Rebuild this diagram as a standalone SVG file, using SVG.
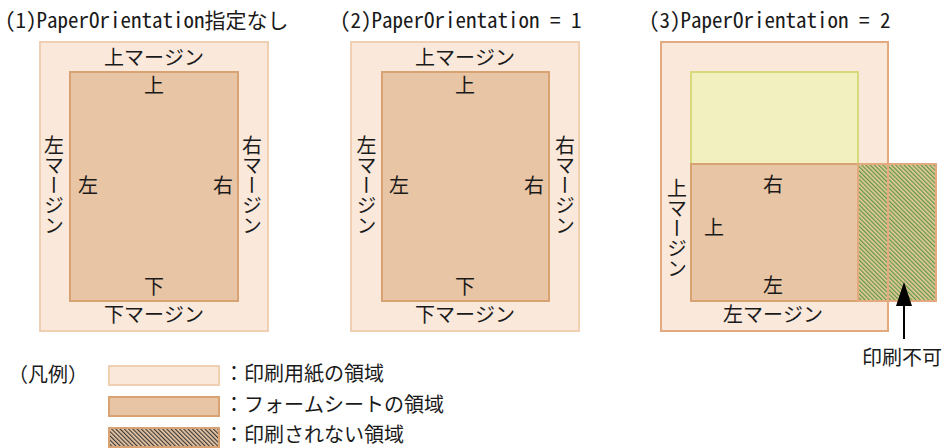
<svg xmlns="http://www.w3.org/2000/svg" width="944" height="448" viewBox="0 0 944 448">
<defs>
<style>
text{font-family:"Noto Sans Mono CJK JP","Noto Sans CJK JP","Liberation Mono",monospace;fill:#1a1a1a;}
.t{font-size:21px;}
.l{font-size:20px;text-anchor:middle;}
.v{font-size:20px;text-anchor:middle;writing-mode:vertical-rl;}
.g{font-size:20px;}
.paper{fill:#fae8da;stroke:#f0cfb2;stroke-width:2;}
.paper3{fill:#fae8da;stroke:#e2aa7e;stroke-width:2;}
.form{fill:#e8c5a5;stroke:#d9a272;stroke-width:2;}
.yel{fill:#f2f0be;stroke:#d6da7a;stroke-width:2;}
</style>
<pattern id="hg" patternUnits="userSpaceOnUse" width="3" height="3" patternTransform="rotate(-45)">
<rect width="3" height="3" fill="#ecc9a6"/>
<rect width="1.3" height="3" fill="#5f9a3c"/>
</pattern>
<pattern id="hk" patternUnits="userSpaceOnUse" width="3" height="3" patternTransform="rotate(-45)">
<rect width="3" height="3" fill="#ecc9a6"/>
<rect width="1.2" height="3" fill="#3a3a3a"/>
</pattern>
</defs>
<rect width="944" height="448" fill="#ffffff"/>

<g id="panel1">
<text class="t" x="5" y="28">(1)PaperOrientation指定なし</text>
<rect class="paper" x="40" y="42" width="228" height="289"/>
<rect class="form" x="70" y="72" width="168" height="229"/>
<text class="l" x="154" y="65">上マージン</text>
<text class="l" x="154" y="322">下マージン</text>
<text class="v" x="54" y="185.5">左マージン</text>
<text class="v" x="252" y="185.5">右マージン</text>
<text class="l" x="154" y="93">上</text>
<text class="l" x="154" y="294">下</text>
<text class="l" x="88" y="193">左</text>
<text class="l" x="223" y="193">右</text>
</g>

<g id="panel2">
<text class="t" x="340" y="28">(2)PaperOrientation = 1</text>
<rect class="paper" x="351" y="42" width="228" height="289"/>
<rect class="form" x="382" y="72" width="167" height="229"/>
<text class="l" x="465" y="65">上マージン</text>
<text class="l" x="465" y="322">下マージン</text>
<text class="v" x="366.5" y="185.5">左マージン</text>
<text class="v" x="565" y="185.5">右マージン</text>
<text class="l" x="465" y="93">上</text>
<text class="l" x="465" y="294">下</text>
<text class="l" x="399" y="193">左</text>
<text class="l" x="534" y="193">右</text>
</g>

<g id="panel3">
<text class="t" x="649" y="28">(3)PaperOrientation = 2</text>
<rect class="paper3" x="661" y="42" width="227" height="289"/>
<rect class="yel" x="691" y="72" width="167" height="92"/>
<rect class="form" x="691" y="164" width="167" height="137"/>
<rect x="858" y="164" width="78" height="137" fill="url(#hg)" stroke="#e2aa7e" stroke-width="2"/>
<line x1="888" y1="164" x2="888" y2="301" stroke="#e2aa7e" stroke-width="2"/>
<text class="l" x="773" y="192">右</text>
<text class="l" x="714" y="235">上</text>
<text class="l" x="773" y="293">左</text>
<text class="l" x="773" y="322">左マージン</text>
<text class="v" x="677" y="228.5">上マージン</text>
</g>

<g id="connectors">
<line x1="904" y1="339" x2="904" y2="300" stroke="#000" stroke-width="2"/>
<polygon points="904,282 912,306 896,306" fill="#000"/>
</g>

<g id="label-fukanou">
<text class="l" x="902" y="365">印刷不可</text>
</g>

<g id="legend">
<text class="g" x="8" y="382">（凡例）</text>
<rect x="109" y="366" width="110" height="19" fill="#fae8da" stroke="#f0cfb2" stroke-width="2"/>
<rect x="109" y="397" width="110" height="19" fill="#e8c5a5" stroke="#d9a272" stroke-width="2"/>
<rect x="109" y="428" width="110" height="19" fill="url(#hk)" stroke="#d9a272" stroke-width="2"/>
<text class="g" x="224" y="381">：印刷用紙の領域</text>
<text class="g" x="224" y="412">：フォームシートの領域</text>
<text class="g" x="224" y="442">：印刷されない領域</text>
</g>
</svg>
